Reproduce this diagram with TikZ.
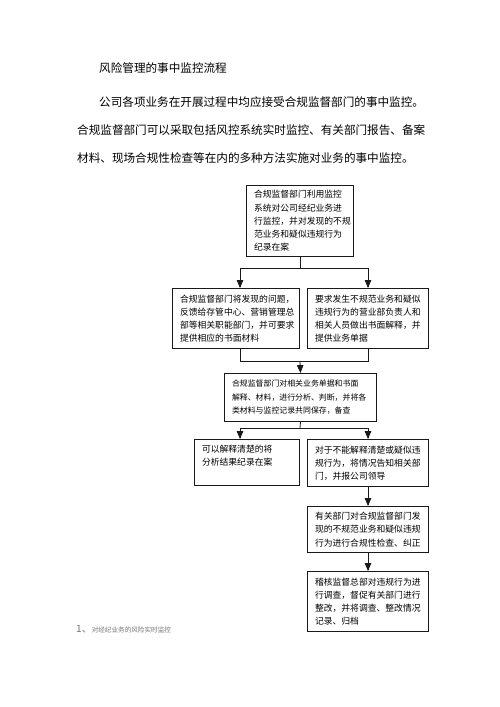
\documentclass[tikz,border=0pt]{standalone}
\usepackage{fontspec}
\setmainfont{Noto Sans CJK SC}
\usetikzlibrary{shapes,arrows}
\usetikzlibrary{calc}

\newcommand{\boxfont}{\fontsize{8.8pt}{13.2pt}\selectfont}
\newcommand{\smallboxfont}{\fontsize{7.9pt}{13.5pt}\selectfont}
\newcommand{\parafont}{\fontsize{11.6pt}{14pt}\selectfont}

\begin{document}
\begin{tikzpicture}[x=1pt,y=-1pt]

\tikzstyle{flowbox} = [draw, line width=1, anchor=north west, inner xsep=7.5, inner ysep=3,
align=left, font=\boxfont, draw=black!90, text=black]
\tikzstyle{line} = [draw, line width=0.8, draw=black!90]
\tikzstyle{arrow} = [line, -triangle 45]
\tikzstyle{para} = [anchor=west, inner sep=0, font=\parafont, text=black]

\useasboundingbox (0,0) rectangle (500,707);

% heading and paragraph
\node [para] (title) at (99,68) {风险管理的事中监控流程};
\node [para] (line1) at (99,102) {公司各项业务在开展过程中均应接受合规监督部门的事中监控。};
\node [para] (line2) at (77,130) {合规监督部门可以采取包括风控系统实时监控、有关部门报告、备案};
\node [para] (line3) at (77,158) {材料、现场合规性检查等在内的多种方法实施对业务的事中监控。};

% boxes
\node [flowbox, text width=92, minimum height=71] (top) at (246,185)
{合规监督部门利用监控\\系统对公司经纪业务进\\行监控，并对发现的不规\\范业务和疑似违规行为\\纪录在案};

\node [flowbox, text width=112, minimum height=60] (lbox) at (172,288)
{合规监督部门将发现的问题，\\反馈给存管中心、营销管理总\\部等相关职能部门，并可要求\\提供相应的书面材料};

\node [flowbox, text width=106, minimum height=60] (rbox) at (307,288)
{要求发生不规范业务和疑似\\违规行为的营业部负责人和\\相关人员做出书面解释，并\\提供业务单据};

\node [flowbox, font=\smallboxfont, text width=137, minimum height=48] (mbox) at (224,373)
{合规监督部门对相关业务单据和书面\\解释、材料，进行分析、判断，并将各\\类材料与监控记录共同保存，备查};

\node [flowbox, text width=90, minimum height=46, text depth=28] (lbox2) at (194,439)
{可以解释清楚的将\\分析结果纪录在案};

\node [flowbox, text width=106, minimum height=47] (rbox2) at (307,439)
{对于不能解释清楚或疑似违\\规行为，将情况告知相关部\\门，并报公司领导};

\node [flowbox, text width=106, minimum height=46] (box3) at (307,506)
{有关部门对合规监督部门发\\现的不规范业务和疑似违规\\行为进行合规性检查、纠正};

\node [flowbox, text width=106, minimum height=60] (box4) at (307,571)
{稽核监督总部对违规行为进\\行调查，督促有关部门进行\\整改，并将调查、整改情况\\记录、归档};

% footnote
\node [anchor=west, inner sep=0, text=black!55] (note) at (76,629)
{{\fontsize{10pt}{10pt}\selectfont 1、}{\fontsize{6.6pt}{7pt}\selectfont 对经纪业务的风险实时监控}};

% connectors
\coordinate (colL) at (240,0);
\coordinate (s1) at (300,268);
\coordinate (m1) at (300,361);
\coordinate (s2) at (300,428);

\draw [line] (top.south) -- (s1);
\draw [arrow] (s1) -| (lbox.north -| colL);
\draw [arrow] (s1) -| (rbox.north);
\draw [line] (lbox.south -| colL) |- (m1);
\draw [line] (rbox.south) |- (m1);
\draw [arrow] (m1) -- (mbox.north);
\draw [line] (mbox.south) -- (s2);
\draw [arrow] (s2) -| (lbox2.north -| colL);
\draw [arrow] (s2) -| (rbox2.north);
\draw [arrow] (rbox2) -- (box3);
\draw [arrow] (box3) -- (box4);

\end{tikzpicture}
\end{document}
